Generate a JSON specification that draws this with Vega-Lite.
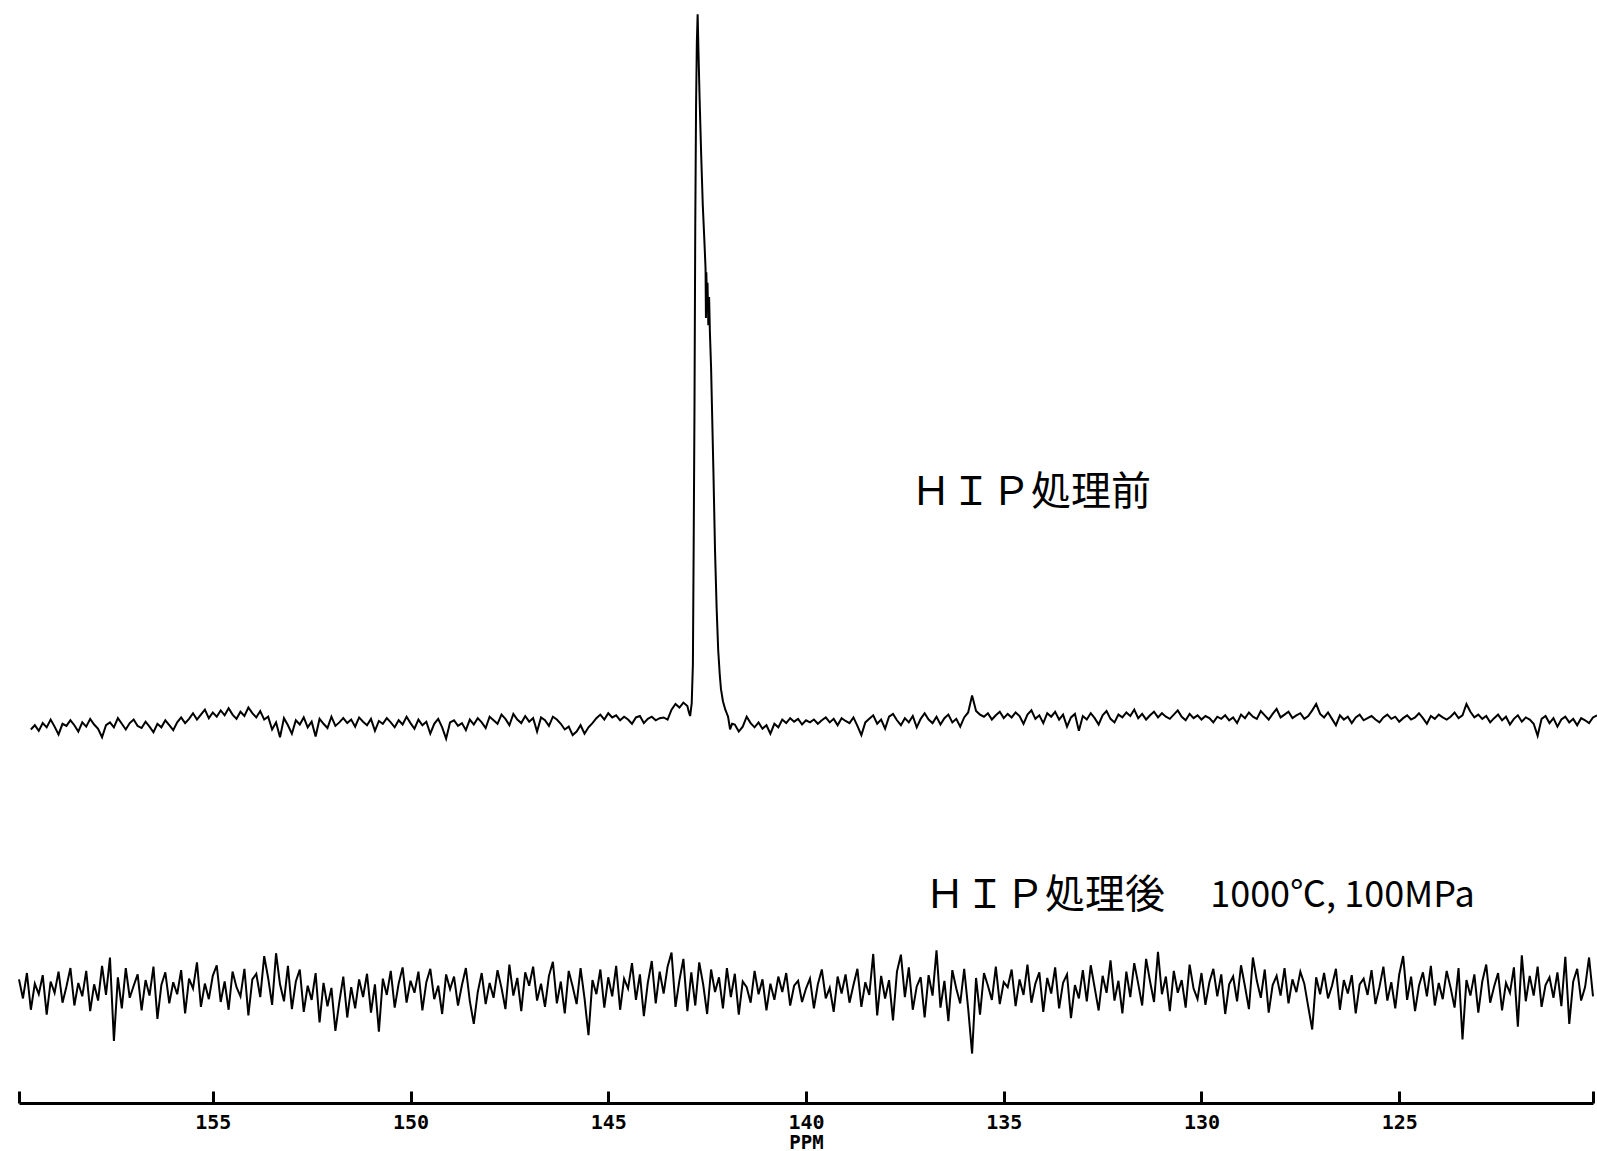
{
"$schema": "https://vega.github.io/schema/vega-lite/v6.json",
"padding": {"left": 15, "top": 5, "right": 0, "bottom": 0},
"background": "white",
"config": {"view": {"stroke": null}},
"spacing": 115,
"datasets": {
"top": [
{"x":159.6,"y":-1.2},{"x":159.5,"y":-0.6},{"x":159.4,"y":-1.4},{"x":159.3,"y":-0.3},{"x":159.2,"y":-0.9},{"x":159.1,"y":0.2},{"x":159.0,"y":-0.8},{"x":158.9,"y":-1.9},{"x":158.8,"y":-0.4},{"x":158.7,"y":-0.7},
{"x":158.6,"y":0.1},{"x":158.5,"y":-0.6},{"x":158.4,"y":-1.5},{"x":158.3,"y":-0.2},{"x":158.2,"y":-0.8},{"x":158.1,"y":0.3},{"x":158.0,"y":-0.5},{"x":157.9,"y":-1.1},{"x":157.8,"y":-2.3},{"x":157.7,"y":-0.6},
{"x":157.6,"y":-0.2},{"x":157.5,"y":-0.9},{"x":157.4,"y":0.4},{"x":157.3,"y":-0.4},{"x":157.2,"y":-1.2},{"x":157.1,"y":-0.3},{"x":157.0,"y":0.2},{"x":156.9,"y":-0.7},{"x":156.8,"y":-1.0},{"x":156.7,"y":-0.1},
{"x":156.6,"y":-0.8},{"x":156.5,"y":-1.6},{"x":156.4,"y":-0.4},{"x":156.3,"y":-0.9},{"x":156.2,"y":0.1},{"x":156.1,"y":-0.6},{"x":156.0,"y":-1.3},{"x":155.9,"y":-0.2},{"x":155.8,"y":0.5},{"x":155.7,"y":-0.3},
{"x":155.6,"y":0.3},{"x":155.5,"y":1.1},{"x":155.4,"y":0.2},{"x":155.3,"y":0.9},{"x":155.2,"y":1.6},{"x":155.1,"y":0.4},{"x":155.0,"y":1.2},{"x":154.9,"y":0.6},{"x":154.8,"y":1.5},{"x":154.7,"y":0.8},
{"x":154.6,"y":1.8},{"x":154.5,"y":0.9},{"x":154.4,"y":0.3},{"x":154.3,"y":1.3},{"x":154.2,"y":0.7},{"x":154.1,"y":1.9},{"x":154.0,"y":1.1},{"x":153.9,"y":0.5},{"x":153.8,"y":1.4},{"x":153.7,"y":0.2},
{"x":153.6,"y":0.6},{"x":153.5,"y":-1.2},{"x":153.4,"y":-0.2},{"x":153.3,"y":-2.3},{"x":153.2,"y":0.4},{"x":153.1,"y":-0.6},{"x":153.0,"y":-1.8},{"x":152.9,"y":0.1},{"x":152.8,"y":-0.5},{"x":152.7,"y":0.5},
{"x":152.6,"y":-0.9},{"x":152.5,"y":-0.1},{"x":152.4,"y":-2.2},{"x":152.3,"y":0.3},{"x":152.2,"y":-0.4},{"x":152.1,"y":-1.0},{"x":152.0,"y":0.6},{"x":151.9,"y":-0.7},{"x":151.8,"y":-0.2},{"x":151.7,"y":0.4},
{"x":151.6,"y":-0.3},{"x":151.5,"y":0.2},{"x":151.4,"y":-0.8},{"x":151.3,"y":0.5},{"x":151.2,"y":-0.1},{"x":151.1,"y":-0.6},{"x":151.0,"y":0.3},{"x":150.9,"y":-1.4},{"x":150.8,"y":0.0},{"x":150.7,"y":-0.4},
{"x":150.6,"y":0.4},{"x":150.5,"y":-0.2},{"x":150.4,"y":-0.9},{"x":150.3,"y":0.1},{"x":150.2,"y":-0.5},{"x":150.1,"y":0.6},{"x":150.0,"y":-0.3},{"x":149.9,"y":-1.1},{"x":149.8,"y":0.2},{"x":149.7,"y":-0.6},
{"x":149.6,"y":-0.1},{"x":149.5,"y":-1.8},{"x":149.4,"y":-0.4},{"x":149.3,"y":0.3},{"x":149.2,"y":-0.9},{"x":149.1,"y":-2.5},{"x":149.0,"y":-0.2},{"x":148.9,"y":0.1},{"x":148.8,"y":-0.7},{"x":148.7,"y":-0.3},
{"x":148.6,"y":-1.3},{"x":148.5,"y":0.2},{"x":148.4,"y":-0.5},{"x":148.3,"y":0.4},{"x":148.2,"y":-0.2},{"x":148.1,"y":-1.0},{"x":148.0,"y":0.6},{"x":147.9,"y":0.1},{"x":147.8,"y":-0.4},{"x":147.7,"y":0.9},
{"x":147.6,"y":0.3},{"x":147.5,"y":-0.6},{"x":147.4,"y":1.0},{"x":147.3,"y":0.2},{"x":147.2,"y":-0.3},{"x":147.1,"y":0.7},{"x":147.0,"y":-0.1},{"x":146.9,"y":0.4},{"x":146.8,"y":-1.5},{"x":146.7,"y":0.5},
{"x":146.6,"y":0.1},{"x":146.5,"y":-0.7},{"x":146.4,"y":0.6},{"x":146.3,"y":0.2},{"x":146.2,"y":-0.4},{"x":146.1,"y":-1.2},{"x":146.0,"y":-0.8},{"x":145.9,"y":-2.0},{"x":145.8,"y":-1.5},{"x":145.7,"y":-0.6},
{"x":145.6,"y":-1.8},{"x":145.5,"y":-0.9},{"x":145.4,"y":-0.3},{"x":145.3,"y":0.4},{"x":145.2,"y":0.9},{"x":145.1,"y":0.2},{"x":145.0,"y":1.1},{"x":144.9,"y":0.5},{"x":144.8,"y":0.8},{"x":144.7,"y":0.1},
{"x":144.6,"y":0.6},{"x":144.5,"y":0.2},{"x":144.4,"y":-0.4},{"x":144.3,"y":0.5},{"x":144.2,"y":0.7},{"x":144.1,"y":-0.3},{"x":144.0,"y":0.3},{"x":143.9,"y":0.6},{"x":143.8,"y":0.1},{"x":143.7,"y":0.4},
{"x":143.6,"y":0.5},{"x":143.5,"y":0.2},{"x":143.4,"y":1.6},{"x":143.3,"y":2.4},{"x":143.2,"y":1.9},{"x":143.1,"y":2.6},{"x":143.0,"y":2.1},
{"x":142.96,"y":1.2},{"x":142.93,"y":0.7},{"x":142.89,"y":2.5},{"x":142.86,"y":8},{"x":142.84,"y":25},{"x":142.82,"y":44},{"x":142.8,"y":70},{"x":142.78,"y":87},{"x":142.76,"y":96},{"x":142.74,"y":100},{"x":142.72,"y":95},{"x":142.69,"y":88},{"x":142.65,"y":80},{"x":142.61,"y":73},{"x":142.57,"y":68},{"x":142.54,"y":64},{"x":142.53,"y":57},{"x":142.52,"y":63.5},{"x":142.5,"y":58},{"x":142.49,"y":62},{"x":142.47,"y":56},{"x":142.45,"y":60},{"x":142.43,"y":55},{"x":142.4,"y":50},{"x":142.38,"y":45},{"x":142.34,"y":35},{"x":142.3,"y":24},{"x":142.26,"y":16},{"x":142.22,"y":10},{"x":142.18,"y":6.5},{"x":142.15,"y":4.5},{"x":142.1,"y":2.8},{"x":142.04,"y":1.6},{"x":141.97,"y":0.6},{"x":141.92,"y":-1.2},{"x":141.87,"y":-0.4},
{"x":141.8,"y":-0.5},{"x":141.7,"y":-1.5},{"x":141.6,"y":-0.8},{"x":141.5,"y":0.6},{"x":141.4,"y":-0.3},{"x":141.3,"y":-0.9},{"x":141.2,"y":-0.2},{"x":141.1,"y":-1.1},{"x":141.0,"y":-0.6},{"x":140.9,"y":-1.8},
{"x":140.8,"y":-0.4},{"x":140.7,"y":-0.9},{"x":140.6,"y":0.2},{"x":140.5,"y":-0.3},{"x":140.4,"y":0.4},{"x":140.3,"y":-0.1},{"x":140.2,"y":0.3},{"x":140.1,"y":-0.5},{"x":140.0,"y":0.1},{"x":139.9,"y":-0.2},
{"x":139.8,"y":0.2},{"x":139.7,"y":-0.4},{"x":139.6,"y":0.1},{"x":139.5,"y":0.5},{"x":139.4,"y":-0.2},{"x":139.3,"y":0.3},{"x":139.2,"y":-0.6},{"x":139.1,"y":0.4},{"x":139.0,"y":0.0},{"x":138.9,"y":-0.3},
{"x":138.8,"y":0.5},{"x":138.7,"y":-0.7},{"x":138.6,"y":-2.0},{"x":138.5,"y":-0.2},{"x":138.4,"y":0.3},{"x":138.3,"y":0.8},{"x":138.2,"y":-0.4},{"x":138.1,"y":0.2},{"x":138.0,"y":-1.1},{"x":137.9,"y":0.6},
{"x":137.8,"y":1.0},{"x":137.7,"y":0.1},{"x":137.6,"y":-0.6},{"x":137.5,"y":0.4},{"x":137.4,"y":-0.2},{"x":137.3,"y":0.7},{"x":137.2,"y":-0.9},{"x":137.1,"y":0.3},{"x":137.0,"y":1.1},{"x":136.9,"y":0.2},
{"x":136.8,"y":-0.3},{"x":136.7,"y":0.6},{"x":136.6,"y":-0.5},{"x":136.5,"y":0.4},{"x":136.4,"y":0.9},{"x":136.3,"y":-0.2},{"x":136.2,"y":0.3},{"x":136.1,"y":-0.8},{"x":136.0,"y":0.5},{"x":135.9,"y":1.2},
{"x":135.8,"y":3.6},{"x":135.7,"y":1.4},{"x":135.6,"y":0.9},{"x":135.5,"y":0.6},{"x":135.4,"y":1.1},{"x":135.3,"y":0.2},{"x":135.2,"y":0.8},{"x":135.1,"y":1.3},{"x":135.0,"y":0.4},{"x":134.9,"y":1.0},
{"x":134.8,"y":0.5},{"x":134.7,"y":1.2},{"x":134.6,"y":0.7},{"x":134.5,"y":-0.4},{"x":134.4,"y":0.9},{"x":134.3,"y":1.5},{"x":134.2,"y":0.3},{"x":134.1,"y":0.8},{"x":134.0,"y":-0.3},{"x":133.9,"y":1.1},
{"x":133.8,"y":0.6},{"x":133.7,"y":1.3},{"x":133.6,"y":0.2},{"x":133.5,"y":0.9},{"x":133.4,"y":-0.8},{"x":133.3,"y":0.5},{"x":133.2,"y":1.0},{"x":133.1,"y":-1.4},{"x":133.0,"y":0.7},{"x":132.9,"y":0.2},
{"x":132.8,"y":1.1},{"x":132.7,"y":0.4},{"x":132.6,"y":-0.5},{"x":132.5,"y":0.8},{"x":132.4,"y":1.4},{"x":132.3,"y":0.3},{"x":132.2,"y":-0.2},{"x":132.1,"y":0.9},{"x":132.0,"y":0.5},{"x":131.9,"y":1.2},
{"x":131.8,"y":0.7},{"x":131.7,"y":1.6},{"x":131.6,"y":0.4},{"x":131.5,"y":1.0},{"x":131.4,"y":0.2},{"x":131.3,"y":0.8},{"x":131.2,"y":1.3},{"x":131.1,"y":0.5},{"x":131.0,"y":1.1},{"x":130.9,"y":0.6},
{"x":130.8,"y":0.3},{"x":130.7,"y":0.9},{"x":130.6,"y":1.5},{"x":130.5,"y":0.6},{"x":130.4,"y":0.1},{"x":130.3,"y":1.0},{"x":130.2,"y":0.4},{"x":130.1,"y":0.8},{"x":130.0,"y":0.2},{"x":129.9,"y":0.7},
{"x":129.8,"y":0.4},{"x":129.7,"y":-0.2},{"x":129.6,"y":0.6},{"x":129.5,"y":0.3},{"x":129.4,"y":0.8},{"x":129.3,"y":0.1},{"x":129.2,"y":0.5},{"x":129.1,"y":-0.3},{"x":129.0,"y":0.9},{"x":128.9,"y":0.4},
{"x":128.8,"y":1.2},{"x":128.7,"y":0.6},{"x":128.6,"y":0.3},{"x":128.5,"y":1.4},{"x":128.4,"y":0.8},{"x":128.3,"y":0.2},{"x":128.2,"y":1.0},{"x":128.1,"y":1.7},{"x":128.0,"y":0.5},{"x":127.9,"y":0.9},
{"x":127.8,"y":1.3},{"x":127.7,"y":0.4},{"x":127.6,"y":0.8},{"x":127.5,"y":1.1},{"x":127.4,"y":0.3},{"x":127.3,"y":0.7},{"x":127.2,"y":1.5},{"x":127.1,"y":2.4},{"x":127.0,"y":1.0},{"x":126.9,"y":0.5},
{"x":126.8,"y":1.2},{"x":126.7,"y":0.3},{"x":126.6,"y":-0.6},{"x":126.5,"y":0.8},{"x":126.4,"y":0.2},{"x":126.3,"y":0.6},{"x":126.2,"y":-0.3},{"x":126.1,"y":0.5},{"x":126.0,"y":0.9},{"x":125.9,"y":0.1},
{"x":125.8,"y":0.4},{"x":125.7,"y":0.7},{"x":125.6,"y":0.2},{"x":125.5,"y":-0.2},{"x":125.4,"y":0.5},{"x":125.3,"y":0.9},{"x":125.2,"y":0.3},{"x":125.1,"y":0.6},{"x":125.0,"y":-0.1},{"x":124.9,"y":0.4},
{"x":124.8,"y":0.8},{"x":124.7,"y":0.2},{"x":124.6,"y":0.5},{"x":124.5,"y":1.1},{"x":124.4,"y":0.4},{"x":124.3,"y":-0.4},{"x":124.2,"y":0.7},{"x":124.1,"y":0.3},{"x":124.0,"y":0.9},{"x":123.9,"y":0.5},
{"x":123.8,"y":0.2},{"x":123.7,"y":0.6},{"x":123.6,"y":1.2},{"x":123.5,"y":0.4},{"x":123.4,"y":0.8},{"x":123.3,"y":2.4},{"x":123.2,"y":1.3},{"x":123.1,"y":0.5},{"x":123.0,"y":0.9},{"x":122.9,"y":0.3},
{"x":122.8,"y":0.7},{"x":122.7,"y":-0.2},{"x":122.6,"y":0.4},{"x":122.5,"y":0.9},{"x":122.4,"y":0.1},{"x":122.3,"y":0.6},{"x":122.2,"y":-0.5},{"x":122.1,"y":0.3},{"x":122.0,"y":0.8},{"x":121.9,"y":-0.1},
{"x":121.8,"y":0.5},{"x":121.7,"y":0.2},{"x":121.6,"y":-0.4},{"x":121.5,"y":-2.1},{"x":121.4,"y":0.3},{"x":121.3,"y":0.7},{"x":121.2,"y":-0.3},{"x":121.1,"y":0.4},{"x":121.0,"y":-0.8},{"x":120.9,"y":0.2},
{"x":120.8,"y":0.6},{"x":120.7,"y":-0.2},{"x":120.6,"y":0.3},{"x":120.5,"y":-0.6},{"x":120.4,"y":0.4},{"x":120.3,"y":0.1},{"x":120.2,"y":-0.3},{"x":120.1,"y":0.5},{"x":120.0,"y":0.8}
],
"bottom": [
{"x":159.9,"y":1.5},{"x":159.8,"y":-1.2},{"x":159.7,"y":2.4},{"x":159.6,"y":-2.8},{"x":159.5,"y":0.9},{"x":159.4,"y":-0.6},{"x":159.3,"y":2.1},{"x":159.2,"y":-3.5},{"x":159.1,"y":1.2},{"x":159.0,"y":-0.4},
{"x":158.9,"y":2.6},{"x":158.8,"y":-1.8},{"x":158.7,"y":0.5},{"x":158.6,"y":3.1},{"x":158.5,"y":-2.2},{"x":158.4,"y":1.0},{"x":158.3,"y":-0.9},{"x":158.2,"y":2.7},{"x":158.1,"y":-3.0},{"x":158.0,"y":0.8},
{"x":157.9,"y":-1.5},{"x":157.8,"y":3.4},{"x":157.7,"y":-0.7},{"x":157.6,"y":4.6},{"x":157.5,"y":-7.2},{"x":157.4,"y":1.8},{"x":157.3,"y":-2.6},{"x":157.2,"y":3.1},{"x":157.1,"y":-1.1},{"x":157.0,"y":0.6},
{"x":156.9,"y":2.2},{"x":156.8,"y":-2.9},{"x":156.7,"y":1.4},{"x":156.6,"y":-0.8},{"x":156.5,"y":3.3},{"x":156.4,"y":-4.1},{"x":156.3,"y":0.7},{"x":156.2,"y":2.5},{"x":156.1,"y":-1.9},{"x":156.0,"y":1.1},
{"x":155.9,"y":-0.6},{"x":155.8,"y":2.8},{"x":155.7,"y":-3.3},{"x":155.6,"y":1.6},{"x":155.5,"y":0.2},{"x":155.4,"y":3.9},{"x":155.3,"y":-2.4},{"x":155.2,"y":0.9},{"x":155.1,"y":-1.3},{"x":155.0,"y":2.0},
{"x":154.9,"y":3.5},{"x":154.8,"y":-1.7},{"x":154.7,"y":1.2},{"x":154.6,"y":-2.8},{"x":154.5,"y":2.6},{"x":154.4,"y":0.4},{"x":154.3,"y":-0.9},{"x":154.2,"y":3.0},{"x":154.1,"y":-3.6},{"x":154.0,"y":1.5},
{"x":153.9,"y":2.3},{"x":153.8,"y":-1.0},{"x":153.7,"y":4.8},{"x":153.6,"y":1.7},{"x":153.5,"y":-2.1},{"x":153.4,"y":5.2},{"x":153.3,"y":0.8},{"x":153.2,"y":-1.6},{"x":153.1,"y":3.4},{"x":153.0,"y":-2.7},
{"x":152.9,"y":1.2},{"x":152.8,"y":2.9},{"x":152.7,"y":-3.1},{"x":152.6,"y":0.6},{"x":152.5,"y":-1.4},{"x":152.4,"y":2.4},{"x":152.3,"y":-4.6},{"x":152.2,"y":1.0},{"x":152.1,"y":-2.3},{"x":152.0,"y":0.3},
{"x":151.9,"y":-5.8},{"x":151.8,"y":-1.7},{"x":151.7,"y":1.9},{"x":151.6,"y":-3.9},{"x":151.5,"y":0.4},{"x":151.4,"y":-2.6},{"x":151.3,"y":1.5},{"x":151.2,"y":-1.0},{"x":151.1,"y":2.3},{"x":151.0,"y":-3.2},
{"x":150.9,"y":0.8},{"x":150.8,"y":-5.9},{"x":150.7,"y":1.6},{"x":150.6,"y":-0.7},{"x":150.5,"y":2.7},{"x":150.4,"y":-2.5},{"x":150.3,"y":0.9},{"x":150.2,"y":3.2},{"x":150.1,"y":-1.8},{"x":150.0,"y":1.3},
{"x":149.9,"y":-0.4},{"x":149.8,"y":2.6},{"x":149.7,"y":-2.9},{"x":149.6,"y":1.1},{"x":149.5,"y":3.0},{"x":149.4,"y":-1.3},{"x":149.3,"y":0.6},{"x":149.2,"y":-3.4},{"x":149.1,"y":2.2},{"x":149.0,"y":0.1},
{"x":148.9,"y":1.9},{"x":148.8,"y":-2.2},{"x":148.7,"y":0.7},{"x":148.6,"y":3.1},{"x":148.5,"y":-1.6},{"x":148.4,"y":-4.8},{"x":148.3,"y":-0.3},{"x":148.2,"y":2.4},{"x":148.1,"y":-2.0},{"x":148.0,"y":1.0},
{"x":147.9,"y":-1.1},{"x":147.8,"y":2.8},{"x":147.7,"y":0.3},{"x":147.6,"y":-2.7},{"x":147.5,"y":3.6},{"x":147.4,"y":-0.8},{"x":147.3,"y":1.7},{"x":147.2,"y":-3.0},{"x":147.1,"y":2.5},{"x":147.0,"y":0.6},
{"x":146.9,"y":3.3},{"x":146.8,"y":-1.5},{"x":146.7,"y":0.9},{"x":146.6,"y":-2.4},{"x":146.5,"y":2.0},{"x":146.4,"y":4.0},{"x":146.3,"y":-1.9},{"x":146.2,"y":1.2},{"x":146.1,"y":-3.3},{"x":146.0,"y":2.7},
{"x":145.9,"y":0.5},{"x":145.8,"y":-2.0},{"x":145.7,"y":3.1},{"x":145.6,"y":-1.2},{"x":145.5,"y":-6.4},{"x":145.4,"y":1.4},{"x":145.3,"y":-0.6},{"x":145.2,"y":2.9},{"x":145.1,"y":-2.5},{"x":145.0,"y":1.8},
{"x":144.9,"y":-0.9},{"x":144.8,"y":3.4},{"x":144.7,"y":-2.8},{"x":144.6,"y":1.6},{"x":144.5,"y":0.2},{"x":144.4,"y":3.8},{"x":144.3,"y":-1.4},{"x":144.2,"y":2.2},{"x":144.1,"y":-3.7},{"x":144.0,"y":1.0},
{"x":143.9,"y":4.1},{"x":143.8,"y":-1.9},{"x":143.7,"y":2.6},{"x":143.6,"y":-0.5},{"x":143.5,"y":3.3},{"x":143.4,"y":5.3},{"x":143.3,"y":-2.4},{"x":143.2,"y":1.4},{"x":143.1,"y":4.4},{"x":143.0,"y":-3.0},
{"x":142.9,"y":2.5},{"x":142.8,"y":-2.2},{"x":142.7,"y":3.9},{"x":142.6,"y":0.8},{"x":142.5,"y":-3.4},{"x":142.4,"y":2.9},{"x":142.3,"y":-0.3},{"x":142.2,"y":1.8},{"x":142.1,"y":-2.6},{"x":142.0,"y":3.1},
{"x":141.9,"y":-1.0},{"x":141.8,"y":2.3},{"x":141.7,"y":-3.5},{"x":141.6,"y":1.2},{"x":141.5,"y":0.4},{"x":141.4,"y":-1.8},{"x":141.3,"y":2.7},{"x":141.2,"y":-0.6},{"x":141.1,"y":1.5},{"x":141.0,"y":-2.9},
{"x":140.9,"y":0.9},{"x":140.8,"y":-1.4},{"x":140.7,"y":1.9},{"x":140.6,"y":-0.3},{"x":140.5,"y":2.4},{"x":140.4,"y":-2.2},{"x":140.3,"y":0.6},{"x":140.2,"y":1.3},{"x":140.1,"y":-1.7},{"x":140.0,"y":0.2},
{"x":139.9,"y":1.6},{"x":139.8,"y":-2.6},{"x":139.7,"y":0.8},{"x":139.6,"y":2.9},{"x":139.5,"y":-1.2},{"x":139.4,"y":0.3},{"x":139.3,"y":-3.1},{"x":139.2,"y":1.9},{"x":139.1,"y":-0.5},{"x":139.0,"y":2.2},
{"x":138.9,"y":-1.8},{"x":138.8,"y":0.7},{"x":138.7,"y":3.0},{"x":138.6,"y":-2.4},{"x":138.5,"y":1.1},{"x":138.4,"y":-0.7},{"x":138.3,"y":5.1},{"x":138.2,"y":-3.6},{"x":138.1,"y":2.0},{"x":138.0,"y":-1.2},
{"x":137.9,"y":1.4},{"x":137.8,"y":-4.3},{"x":137.7,"y":2.6},{"x":137.6,"y":5.0},{"x":137.5,"y":-1.0},{"x":137.4,"y":3.2},{"x":137.3,"y":-2.8},{"x":137.2,"y":0.5},{"x":137.1,"y":1.8},{"x":137.0,"y":-3.9},
{"x":136.9,"y":2.1},{"x":136.8,"y":-0.8},{"x":136.7,"y":5.6},{"x":136.6,"y":-2.5},{"x":136.5,"y":1.3},{"x":136.4,"y":-4.4},{"x":136.3,"y":2.8},{"x":136.2,"y":0.2},{"x":136.1,"y":-1.9},{"x":136.0,"y":3.0},
{"x":135.9,"y":-2.6},{"x":135.8,"y":-9.0},{"x":135.7,"y":1.7},{"x":135.6,"y":-3.5},{"x":135.5,"y":2.4},{"x":135.4,"y":0.6},{"x":135.3,"y":-1.4},{"x":135.2,"y":3.3},{"x":135.1,"y":-2.0},{"x":135.0,"y":1.1},
{"x":134.9,"y":0.4},{"x":134.8,"y":2.9},{"x":134.7,"y":-2.3},{"x":134.6,"y":1.5},{"x":134.5,"y":-0.7},{"x":134.4,"y":3.6},{"x":134.3,"y":-1.8},{"x":134.2,"y":0.9},{"x":134.1,"y":2.5},{"x":134.0,"y":-3.1},
{"x":133.9,"y":1.7},{"x":133.8,"y":-0.5},{"x":133.7,"y":3.2},{"x":133.6,"y":-2.6},{"x":133.5,"y":1.0},{"x":133.4,"y":2.2},{"x":133.3,"y":-4.0},{"x":133.2,"y":0.7},{"x":133.1,"y":-1.2},{"x":133.0,"y":2.8},
{"x":132.9,"y":-1.6},{"x":132.8,"y":3.5},{"x":132.7,"y":0.3},{"x":132.6,"y":-2.9},{"x":132.5,"y":2.0},{"x":132.4,"y":-0.4},{"x":132.3,"y":4.2},{"x":132.2,"y":-1.5},{"x":132.1,"y":1.3},{"x":132.0,"y":-3.3},
{"x":131.9,"y":2.6},{"x":131.8,"y":-1.0},{"x":131.7,"y":3.8},{"x":131.6,"y":0.9},{"x":131.5,"y":-2.2},{"x":131.4,"y":4.4},{"x":131.3,"y":1.2},{"x":131.2,"y":-1.7},{"x":131.1,"y":5.4},{"x":131.0,"y":-0.6},
{"x":130.9,"y":1.9},{"x":130.8,"y":-3.0},{"x":130.7,"y":2.7},{"x":130.6,"y":-0.4},{"x":130.5,"y":1.4},{"x":130.4,"y":-2.5},{"x":130.3,"y":3.6},{"x":130.2,"y":0.2},{"x":130.1,"y":-1.3},{"x":130.0,"y":2.4},
{"x":129.9,"y":-2.1},{"x":129.8,"y":1.1},{"x":129.7,"y":3.0},{"x":129.6,"y":-0.9},{"x":129.5,"y":2.2},{"x":129.4,"y":-3.4},{"x":129.3,"y":0.8},{"x":129.2,"y":1.9},{"x":129.1,"y":-1.6},{"x":129.0,"y":3.5},
{"x":128.9,"y":0.5},{"x":128.8,"y":-2.7},{"x":128.7,"y":4.6},{"x":128.6,"y":1.3},{"x":128.5,"y":-1.1},{"x":128.4,"y":2.9},{"x":128.3,"y":-3.2},{"x":128.2,"y":0.7},{"x":128.1,"y":2.0},{"x":128.0,"y":-0.8},
{"x":127.9,"y":3.1},{"x":127.8,"y":-1.9},{"x":127.7,"y":1.5},{"x":127.6,"y":-0.3},{"x":127.5,"y":2.6},{"x":127.4,"y":0.9},{"x":127.3,"y":-2.4},{"x":127.2,"y":-5.6},{"x":127.1,"y":1.8},{"x":127.0,"y":-0.6},
{"x":126.9,"y":2.4},{"x":126.8,"y":-1.2},{"x":126.7,"y":0.6},{"x":126.6,"y":3.0},{"x":126.5,"y":-2.8},{"x":126.4,"y":1.4},{"x":126.3,"y":-0.5},{"x":126.2,"y":2.1},{"x":126.1,"y":-3.3},{"x":126.0,"y":0.8},
{"x":125.9,"y":1.6},{"x":125.8,"y":-0.7},{"x":125.7,"y":2.8},{"x":125.6,"y":-2.0},{"x":125.5,"y":0.4},{"x":125.4,"y":3.3},{"x":125.3,"y":-1.5},{"x":125.2,"y":1.1},{"x":125.1,"y":-2.6},{"x":125.0,"y":2.2},
{"x":124.9,"y":4.8},{"x":124.8,"y":-1.4},{"x":124.7,"y":1.9},{"x":124.6,"y":-3.0},{"x":124.5,"y":0.6},{"x":124.4,"y":2.5},{"x":124.3,"y":-0.9},{"x":124.2,"y":3.4},{"x":124.1,"y":-2.2},{"x":124.0,"y":1.0},
{"x":123.9,"y":-1.3},{"x":123.8,"y":2.7},{"x":123.7,"y":0.3},{"x":123.6,"y":-2.5},{"x":123.5,"y":3.1},{"x":123.4,"y":-7.0},{"x":123.3,"y":1.4},{"x":123.2,"y":-0.8},{"x":123.1,"y":2.2},{"x":123.0,"y":-3.2},
{"x":122.9,"y":1.2},{"x":122.8,"y":3.6},{"x":122.7,"y":-1.8},{"x":122.6,"y":0.5},{"x":122.5,"y":2.4},{"x":122.4,"y":-2.9},{"x":122.3,"y":1.0},{"x":122.2,"y":-0.4},{"x":122.1,"y":3.2},{"x":122.0,"y":-5.2},
{"x":121.9,"y":4.9},{"x":121.8,"y":-1.6},{"x":121.7,"y":2.0},{"x":121.6,"y":-0.8},{"x":121.5,"y":3.3},{"x":121.4,"y":-2.4},{"x":121.3,"y":0.7},{"x":121.2,"y":1.8},{"x":121.1,"y":-1.1},{"x":121.0,"y":2.5},
{"x":120.9,"y":-2.3},{"x":120.8,"y":4.7},{"x":120.7,"y":-4.8},{"x":120.6,"y":1.2},{"x":120.5,"y":3.0},{"x":120.4,"y":-1.5},{"x":120.3,"y":0.4},{"x":120.2,"y":4.6},{"x":120.1,"y":-0.9}
],
"labels": [
{"part":"before","x":137.345,"y":32.3,"t":"ＨＩＰ処理前"},
{"part":"after","x":136.99,"y":13.3,"t":"ＨＩＰ処理後"},
{"part":"cond","x":129.78,"y":13.3,"t":"1000℃, 100MPa"}
]
},
"vconcat": [
{
"width": 1574, "height": 740,
"layer": [
{"data": {"name": "top"},
 "mark": {"type": "line", "color": "black", "strokeWidth": 2},
 "encoding": {
  "x": {"field": "x", "type": "quantitative", "scale": {"domain": [159.9, 120.1], "zero": false, "nice": false}, "axis": null},
  "y": {"field": "y", "type": "quantitative", "scale": {"domain": [-3.4, 101.3], "zero": false, "nice": false}, "axis": null}
 }},
{"data": {"name": "labels"},
 "transform": [{"filter": "datum.part == 'before'"}],
 "mark": {"type": "text", "font": "Noto Sans CJK JP", "fontSize": 40, "align": "left", "baseline": "middle", "color": "black"},
 "encoding": {
  "x": {"field": "x", "type": "quantitative"},
  "y": {"field": "y", "type": "quantitative"},
  "text": {"field": "t"}
 }}
]
},
{
"width": 1574, "height": 243,
"layer": [
{"data": {"name": "bottom"},
 "mark": {"type": "line", "color": "black", "strokeWidth": 2},
 "encoding": {
  "x": {"field": "x", "type": "quantitative", "scale": {"domain": [159.9, 120.1], "zero": false, "nice": false},
   "axis": {"values": [159.9, 155, 150, 145, 140, 135, 130, 125, 120.1], "format": "d",
    "labelExpr": "datum.value % 5 == 0 ? datum.label : ''",
    "title": "PPM", "grid": false, "domainColor": "black", "domainWidth": 3,
    "tickColor": "black", "tickWidth": 3, "tickSize": -12, "labelPadding": 21,
    "labelFont": "DejaVu Sans Mono", "labelFontWeight": "bold", "labelFontSize": 20, "labelColor": "black",
    "labelFlush": false, "labelOverlap": false,
    "titleFont": "DejaVu Sans Mono", "titleFontWeight": "bold", "titleFontSize": 19, "titleColor": "black", "titlePadding": 1}},
  "y": {"field": "y", "type": "quantitative", "scale": {"domain": [-16.0, 18.4], "zero": false, "nice": false}, "axis": null}
 }},
{"data": {"name": "labels"},
 "transform": [{"filter": "datum.part == 'after'"}],
 "mark": {"type": "text", "font": "Noto Sans CJK JP", "fontSize": 40, "align": "left", "baseline": "middle", "color": "black"},
 "encoding": {
  "x": {"field": "x", "type": "quantitative"},
  "y": {"field": "y", "type": "quantitative"},
  "text": {"field": "t"}
 }},
{"data": {"name": "labels"},
 "transform": [{"filter": "datum.part == 'cond'"}],
 "mark": {"type": "text", "font": "Noto Sans CJK JP", "fontSize": 36, "align": "left", "baseline": "middle", "color": "black"},
 "encoding": {
  "x": {"field": "x", "type": "quantitative"},
  "y": {"field": "y", "type": "quantitative"},
  "text": {"field": "t"}
 }}
]
}
],
"resolve": {"scale": {"y": "independent"}}
}
